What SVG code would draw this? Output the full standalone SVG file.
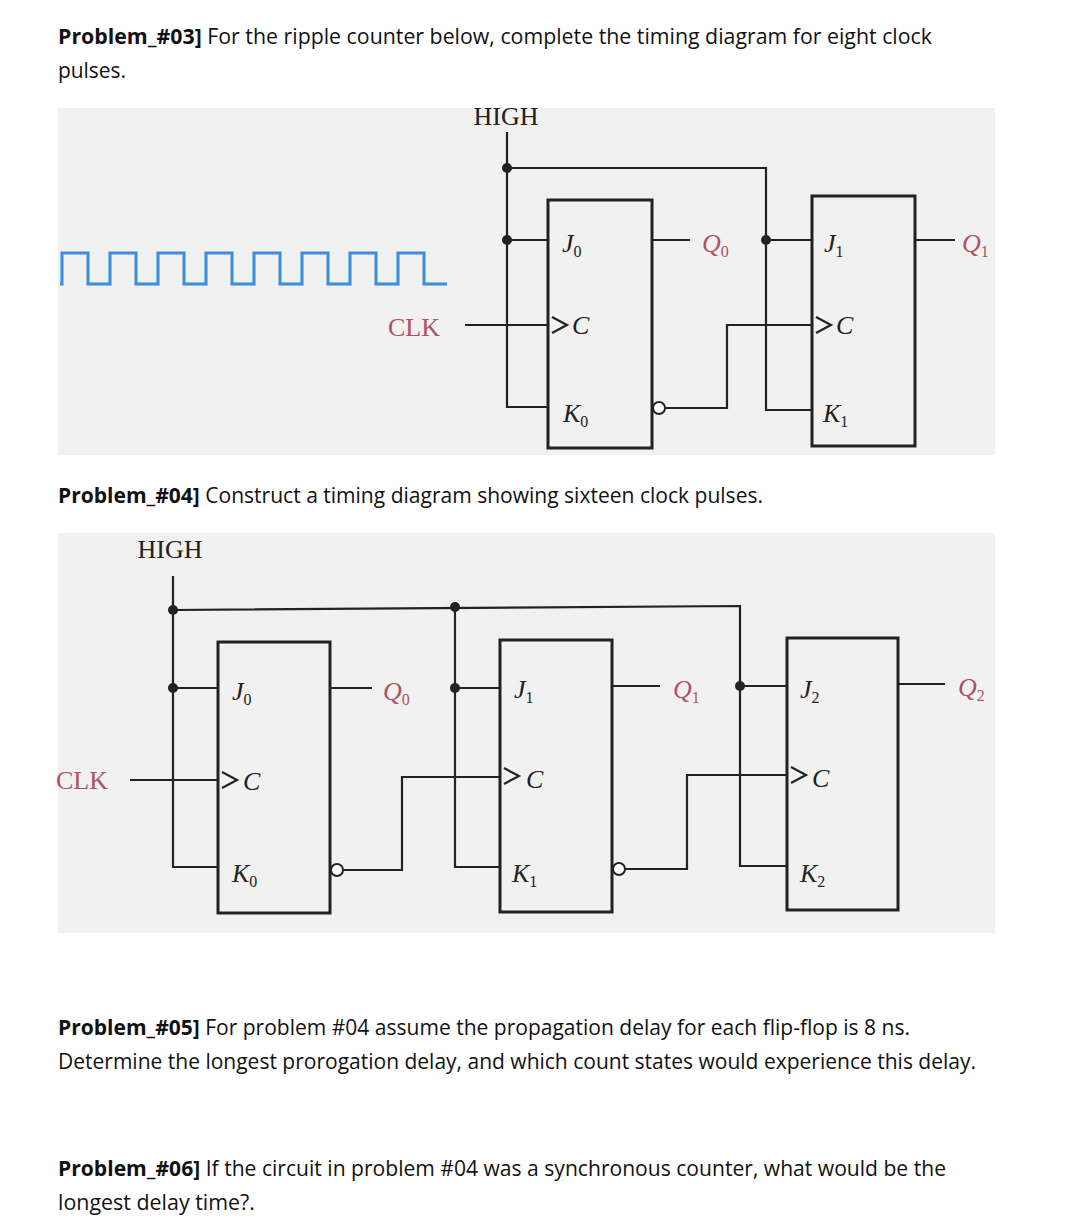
<svg xmlns="http://www.w3.org/2000/svg" width="1088" height="1218" viewBox="0 0 1088 1218">
<style>
.t{font-family:"Open Sans","Liberation Sans",sans-serif;font-size:21px;fill:#111}
.b{font-weight:bold}
.w{stroke:#222;stroke-width:2.2;fill:none}
.box{stroke:#222;stroke-width:3;fill:none}
.s{font-family:"Liberation Serif",serif;font-size:26px;fill:#222}
.i{font-family:"Liberation Serif",serif;font-style:italic;font-size:26px;fill:#222}
.r{font-family:"Liberation Serif",serif;font-style:italic;font-size:26px;fill:#b05060}
.rc{font-family:"Liberation Serif",serif;font-size:26px;fill:#b05060}
.sub{font-size:16px;font-style:normal}
</style>
<rect width="1088" height="1218" fill="#fff"/>
<text class="t" x="58" y="44" textLength="874" lengthAdjust="spacingAndGlyphs"><tspan class="b">Problem_#03]</tspan> For the ripple counter below,  complete the timing diagram for eight clock</text>
<text class="t" x="58" y="78" textLength="68" lengthAdjust="spacingAndGlyphs">pulses.</text>
<g id="circuit1">
<rect x="58" y="108" width="937" height="347" fill="#f1f1f1"/>
<text class="s" x="506" y="125" text-anchor="middle">HIGH</text>
<path d="M60 284 H62 V253 H88 V284 H110 V253 H136 V284 H158 V253 H184 V284 H206 V253 H232 V284 H254 V253 H280 V284 H302 V253 H328 V284 H350 V253 H376 V284 H398 V253 H424 V284 H447" stroke="#3a8ee0" stroke-width="3" fill="none"/>
<g id="ff0a"><rect class="box" x="548" y="200" width="104" height="248"/>
<text class="i" x="562" y="252">J<tspan class="sub" dy="5">0</tspan></text>
<path class="w" d="M552 317 L567 325 L552 333"/><text class="i" x="572" y="334">C</text>
<text class="i" x="563" y="422">K<tspan class="sub" dy="5">0</tspan></text>
<circle cx="659" cy="408" r="6" fill="#fff" stroke="#222" stroke-width="2"/></g>
<g id="ff1a"><rect class="box" x="812" y="196" width="103" height="250"/>
<text class="i" x="824" y="252">J<tspan class="sub" dy="5">1</tspan></text>
<path class="w" d="M816 317 L831 325 L816 333"/><text class="i" x="836" y="334">C</text>
<text class="i" x="823" y="422">K<tspan class="sub" dy="5">1</tspan></text></g>
<g id="conn1">
<path class="w" d="M507 132 V407 H548 M507 168 H766 V410 H812 M507 240 H548 M766 240 H812 M652 240 H690 M915 240 H955 M465 325 H548 M665 408 H727 V325 H812"/>
<circle cx="507" cy="168" r="5" fill="#222"/><circle cx="507" cy="240" r="5" fill="#222"/><circle cx="766" cy="240" r="5" fill="#222"/>
</g>
<text class="r" x="702" y="252">Q<tspan class="sub" dy="5">0</tspan></text>
<text class="r" x="962" y="252">Q<tspan class="sub" dy="5">1</tspan></text>
<text class="rc" x="388" y="336">CLK</text>
</g>
<text class="t" x="58" y="503" textLength="705" lengthAdjust="spacingAndGlyphs"><tspan class="b">Problem_#04]</tspan> Construct a timing diagram showing sixteen clock pulses.</text>
<g id="circuit2">
<rect x="58" y="533" width="937" height="400" fill="#f1f1f1"/>
<text class="s" x="170" y="558" text-anchor="middle">HIGH</text>
<g id="ff0"><rect class="box" x="218" y="642" width="112" height="271"/>
<text class="i" x="232" y="700">J<tspan class="sub" dy="5">0</tspan></text>
<path class="w" d="M222 772 L237 780 L222 788"/><text class="i" x="243" y="790">C</text>
<text class="i" x="232" y="882">K<tspan class="sub" dy="5">0</tspan></text>
<circle cx="337" cy="870" r="6" fill="#fff" stroke="#222" stroke-width="2"/></g>
<g id="ff1"><rect class="box" x="500" y="640" width="112" height="272"/>
<text class="i" x="514" y="698">J<tspan class="sub" dy="5">1</tspan></text>
<path class="w" d="M504 768 L519 776 L504 784"/><text class="i" x="526" y="788">C</text>
<text class="i" x="512" y="882">K<tspan class="sub" dy="5">1</tspan></text>
<circle cx="619" cy="869" r="6" fill="#fff" stroke="#222" stroke-width="2"/></g>
<g id="ff2"><rect class="box" x="787" y="638" width="111" height="272"/>
<text class="i" x="800" y="698">J<tspan class="sub" dy="5">2</tspan></text>
<path class="w" d="M791 767 L806 775 L791 783"/><text class="i" x="812" y="787">C</text>
<text class="i" x="800" y="882">K<tspan class="sub" dy="5">2</tspan></text></g>
<g id="conn2">
<path class="w" d="M173 576 V867 H218 M173 610 L740 606 V866 H787 M455 607 V867 H500 M173 688 H218 M455 688 H500 M740 686 H787 M330 688 H372 M612 686 H660 M898 684 H945 M130 780 H218 M343 870 H402 V777 H500 M625 869 H687 V775 H787"/>
<circle cx="173" cy="610" r="5" fill="#222"/><circle cx="173" cy="688" r="5" fill="#222"/><circle cx="455" cy="607" r="5" fill="#222"/><circle cx="455" cy="688" r="5" fill="#222"/><circle cx="740" cy="686" r="5" fill="#222"/>
</g>
<text class="r" x="383" y="700">Q<tspan class="sub" dy="5">0</tspan></text>
<text class="r" x="673" y="698">Q<tspan class="sub" dy="5">1</tspan></text>
<text class="r" x="958" y="696">Q<tspan class="sub" dy="5">2</tspan></text>
<text class="rc" x="56" y="789">CLK</text>
</g>
<text class="t" x="58" y="1035" textLength="852" lengthAdjust="spacingAndGlyphs"><tspan class="b">Problem_#05]</tspan> For problem #04 assume the propagation delay for each flip-flop is 8 ns.</text>
<text class="t" x="58" y="1069" textLength="918" lengthAdjust="spacingAndGlyphs">Determine the longest prorogation delay, and which count states would experience this delay.</text>
<text class="t" x="58" y="1176" textLength="888" lengthAdjust="spacingAndGlyphs"><tspan class="b">Problem_#06]</tspan> If the circuit in problem #04 was a synchronous counter, what would be the</text>
<text class="t" x="58" y="1210" textLength="197" lengthAdjust="spacingAndGlyphs">longest delay time?.</text>
</svg>
